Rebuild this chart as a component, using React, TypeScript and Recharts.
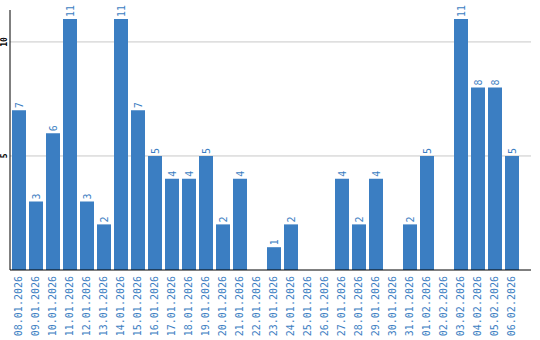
import { BarChart, Bar, XAxis, YAxis, CartesianGrid, LabelList } from "recharts";

const dates = [
  "08.01.2026", "09.01.2026", "10.01.2026", "11.01.2026", "12.01.2026",
  "13.01.2026", "14.01.2026", "15.01.2026", "16.01.2026", "17.01.2026",
  "18.01.2026", "19.01.2026", "20.01.2026", "21.01.2026", "22.01.2026",
  "23.01.2026", "24.01.2026", "25.01.2026", "26.01.2026", "27.01.2026",
  "28.01.2026", "29.01.2026", "30.01.2026", "31.01.2026", "01.02.2026",
  "02.02.2026", "03.02.2026", "04.02.2026", "05.02.2026", "06.02.2026",
];
const counts = [
  7, 3, 6, 11, 3, 2, 11, 7, 5, 4, 4, 5, 2, 4, 0,
  1, 2, 0, 0, 4, 2, 4, 0, 2, 5, 0, 11, 8, 8, 5,
];
const yTicks = [5, 10];

const BLUE = "#3b7ec2";
const MONO = "'DejaVu Sans Mono', monospace";

const data = dates.map((date, i) => ({ date, count: counts[i] }));

const DateTick = ({ x, y, payload }: any) => (
  <text
    transform={`translate(${x}, ${y}) rotate(-90)`}
    textAnchor="end"
    dominantBaseline="central"
    fill={BLUE}
    fontFamily={MONO}
    fontSize={10}
  >
    {payload.value}
  </text>
);

const CountTick = ({ x, y, payload }: any) => (
  <text
    transform={`translate(${x - 4}, ${y}) rotate(-90)`}
    textAnchor="middle"
    dominantBaseline="central"
    fill="#000"
    fontFamily={MONO}
    fontSize={8}
    fontWeight="bold"
  >
    {payload.value}
  </text>
);

const ValueLabel = ({ x, y, width, value }: any) => {
  if (!value) return null;
  return (
    <text
      transform={`translate(${x + width / 2}, ${y - 2}) rotate(-90)`}
      textAnchor="start"
      dominantBaseline="central"
      fill={BLUE}
      fontFamily={MONO}
      fontSize={10}
    >
      {value}
    </text>
  );
};

export default function App() {
  return (
    <div style={{ position: "absolute", left: 0, top: 0, background: "#fff" }}>
      <BarChart
        width={540}
        height={340}
        data={data}
        margin={{ top: 10, right: 9, left: 0, bottom: 0 }}
      >
        <CartesianGrid
          vertical={false}
          stroke="#c8c8c8"
          horizontalValues={yTicks}
        />
        <XAxis
          dataKey="date"
          interval={0}
          height={70}
          tickLine={false}
          tickSize={0}
          tickMargin={6}
          axisLine={{ stroke: "#000" }}
          padding={{ left: 0, right: 11 }}
          tick={<DateTick />}
        />
        <YAxis
          width={10}
          domain={[0, 11.4]}
          ticks={yTicks}
          tickLine={false}
          tickSize={0}
          axisLine={{ stroke: "#000" }}
          tick={<CountTick />}
        />
        <Bar dataKey="count" fill={BLUE} barSize={14} isAnimationActive={false}>
          <LabelList dataKey="count" content={<ValueLabel />} />
        </Bar>
      </BarChart>
    </div>
  );
}
